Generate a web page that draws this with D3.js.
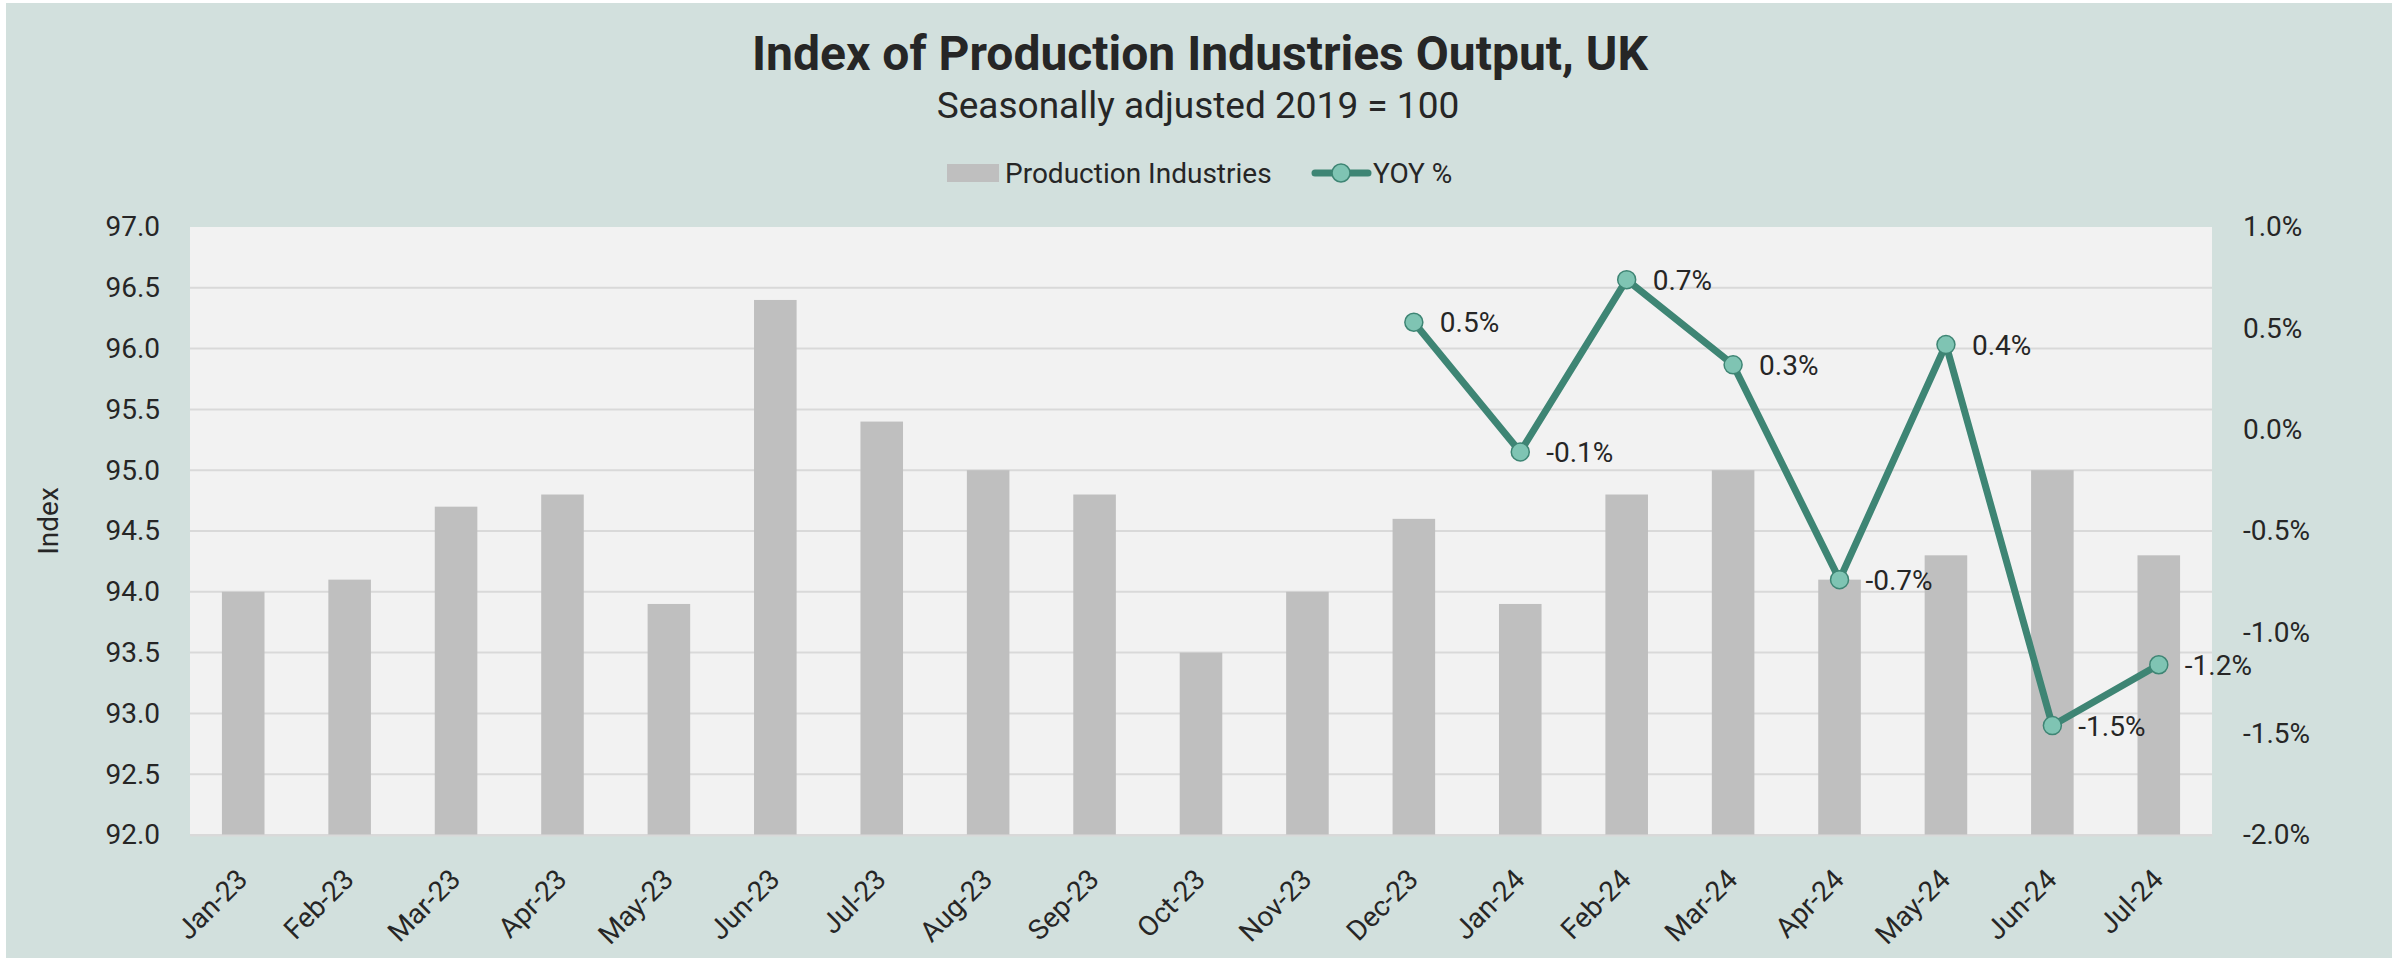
<!DOCTYPE html>
<html>
<head>
<meta charset="utf-8">
<script src="https://cdn.jsdelivr.net/npm/d3@7"></script>
<style>
  html, body { margin: 0; padding: 0; background: #ffffff; }
  svg { display: block; font-family: Roboto, "Noto Sans", sans-serif; }
</style>
</head>
<body>
<svg id="chart" width="2402" height="964"></svg>
<script>
// ---- Data ----
const months = ["Jan-23","Feb-23","Mar-23","Apr-23","May-23","Jun-23","Jul-23","Aug-23","Sep-23","Oct-23","Nov-23","Dec-23",
                "Jan-24","Feb-24","Mar-24","Apr-24","May-24","Jun-24","Jul-24"];
const productionIndex = [94.0, 94.1, 94.7, 94.8, 93.9, 96.4, 95.4, 95.0, 94.8, 93.5, 94.0, 94.6,
                         93.9, 94.8, 95.0, 94.1, 94.3, 95.0, 94.3];
const yoyMonths = ["Dec-23","Jan-24","Feb-24","Mar-24","Apr-24","May-24","Jun-24","Jul-24"];
const yoyValues = [0.53, -0.11, 0.74, 0.32, -0.74, 0.42, -1.46, -1.16];
const leftTicks = [92.0, 92.5, 93.0, 93.5, 94.0, 94.5, 95.0, 95.5, 96.0, 96.5, 97.0];
const rightTicks = [-2.0, -1.5, -1.0, -0.5, 0.0, 0.5, 1.0];

const titleText = "Index of Production Industries Output, UK";
const subtitleText = "Seasonally adjusted 2019 = 100";
const barSeriesName = "Production Industries";
const lineSeriesName = "YOY %";
const yAxisTitle = "Index";

// ---- Layout ----
const W = 2402, H = 964;
const plot = { left: 190, right: 2212, top: 227, bottom: 835 };
const colors = {
  bg: "#d2e0dd", plotBg: "#f2f2f2", grid: "#d9d9d9", bar: "#bfbfbf",
  line: "#3e8574", marker: "#7fc4b3", text: "#262626"
};
const pct = d => d.toFixed(1) + "%";

const svg = d3.select("#chart");

svg.append("rect").attr("x", 6).attr("y", 3).attr("width", 2386).attr("height", 955)
  .attr("fill", colors.bg);

const x = d3.scaleBand().domain(months).range([plot.left, plot.right])
  .paddingInner(0.6).paddingOuter(0.3);
const yL = d3.scaleLinear().domain([92, 97]).range([plot.bottom, plot.top]);
const yR = d3.scaleLinear().domain([-2, 1]).range([plot.bottom, plot.top]);

// plot background
svg.append("rect").attr("x", plot.left).attr("y", plot.top)
  .attr("width", plot.right - plot.left).attr("height", plot.bottom - plot.top)
  .attr("fill", colors.plotBg);

// gridlines
svg.append("g").selectAll("line").data(leftTicks.filter(t => t < 97)).join("line")
  .attr("x1", plot.left).attr("x2", plot.right)
  .attr("y1", d => yL(d)).attr("y2", d => yL(d))
  .attr("stroke", colors.grid).attr("stroke-width", 2);

// bars
svg.append("g").selectAll("rect").data(months).join("rect")
  .attr("x", d => x(d)).attr("width", x.bandwidth())
  .attr("y", (d, i) => yL(productionIndex[i]))
  .attr("height", (d, i) => yL(92) - yL(productionIndex[i]))
  .attr("fill", colors.bar);

// left axis
const leftAxis = svg.append("g").attr("transform", `translate(${plot.left},0)`)
  .call(d3.axisLeft(yL).tickValues(leftTicks).tickFormat(d => d.toFixed(1)).tickSize(0).tickPadding(30));
leftAxis.select(".domain").remove();
leftAxis.selectAll("text").attr("font-size", 28).attr("fill", colors.text)
  .attr("font-family", "Roboto");

// right axis
const rightAxis = svg.append("g").attr("transform", `translate(${plot.right},0)`)
  .call(d3.axisRight(yR).tickValues(rightTicks).tickFormat(pct).tickSize(0).tickPadding(31));
rightAxis.select(".domain").remove();
rightAxis.selectAll("text").attr("font-size", 28).attr("fill", colors.text)
  .attr("font-family", "Roboto");

// bottom axis
const bottomAxis = svg.append("g").attr("transform", `translate(0,${plot.bottom})`)
  .call(d3.axisBottom(x).tickSize(0).tickPadding(0));
bottomAxis.select(".domain").attr("stroke", colors.grid).attr("stroke-width", 2);
bottomAxis.selectAll("text")
  .attr("font-size", 28).attr("fill", colors.text).attr("font-family", "Roboto")
  .attr("text-anchor", "end").attr("dy", null).attr("y", null)
  .attr("transform", "translate(6,46) rotate(-45)");

// y axis title
svg.append("text").attr("transform", `translate(58,${(plot.top + plot.bottom) / 2 - 10}) rotate(-90)`)
  .attr("text-anchor", "middle").attr("font-size", 28).attr("fill", colors.text)
  .text(yAxisTitle);

// line
const cx = m => x(m) + x.bandwidth() / 2;
const lineGen = d3.line().x((d, i) => cx(yoyMonths[i])).y(d => yR(d));
svg.append("path").datum(yoyValues).attr("d", lineGen)
  .attr("fill", "none").attr("stroke", colors.line).attr("stroke-width", 7)
  .attr("stroke-linejoin", "round").attr("stroke-linecap", "round");

svg.append("g").selectAll("circle").data(yoyValues).join("circle")
  .attr("cx", (d, i) => cx(yoyMonths[i])).attr("cy", d => yR(d)).attr("r", 9)
  .attr("fill", colors.marker).attr("stroke", colors.line).attr("stroke-width", 1.5);

svg.append("g").selectAll("text").data(yoyValues).join("text")
  .attr("x", (d, i) => cx(yoyMonths[i]) + 26).attr("y", d => yR(d))
  .attr("dy", "0.36em").attr("font-size", 28).attr("fill", colors.text)
  .text(pct);

// title
svg.append("text").attr("x", 1200).attr("y", 70).attr("text-anchor", "middle")
  .attr("font-size", 48).attr("font-weight", "bold").attr("fill", colors.text)
  .text(titleText);
svg.append("text").attr("x", 1198).attr("y", 118).attr("text-anchor", "middle")
  .attr("font-size", 37).attr("fill", colors.text)
  .text(subtitleText);

// legend
const lg = svg.append("g");
lg.append("rect").attr("x", 947).attr("y", 164).attr("width", 52).attr("height", 18).attr("fill", colors.bar);
lg.append("text").attr("x", 1005).attr("y", 173).attr("dy", "0.36em").attr("font-size", 28)
  .attr("fill", colors.text).text(barSeriesName);
lg.append("line").attr("x1", 1315).attr("x2", 1368).attr("y1", 173).attr("y2", 173)
  .attr("stroke", colors.line).attr("stroke-width", 7).attr("stroke-linecap", "round");
lg.append("circle").attr("cx", 1341).attr("cy", 173).attr("r", 9)
  .attr("fill", colors.marker).attr("stroke", colors.line).attr("stroke-width", 1.5);
lg.append("text").attr("x", 1373).attr("y", 173).attr("dy", "0.36em").attr("font-size", 28)
  .attr("fill", colors.text).text(lineSeriesName);
</script>
</body>
</html>
